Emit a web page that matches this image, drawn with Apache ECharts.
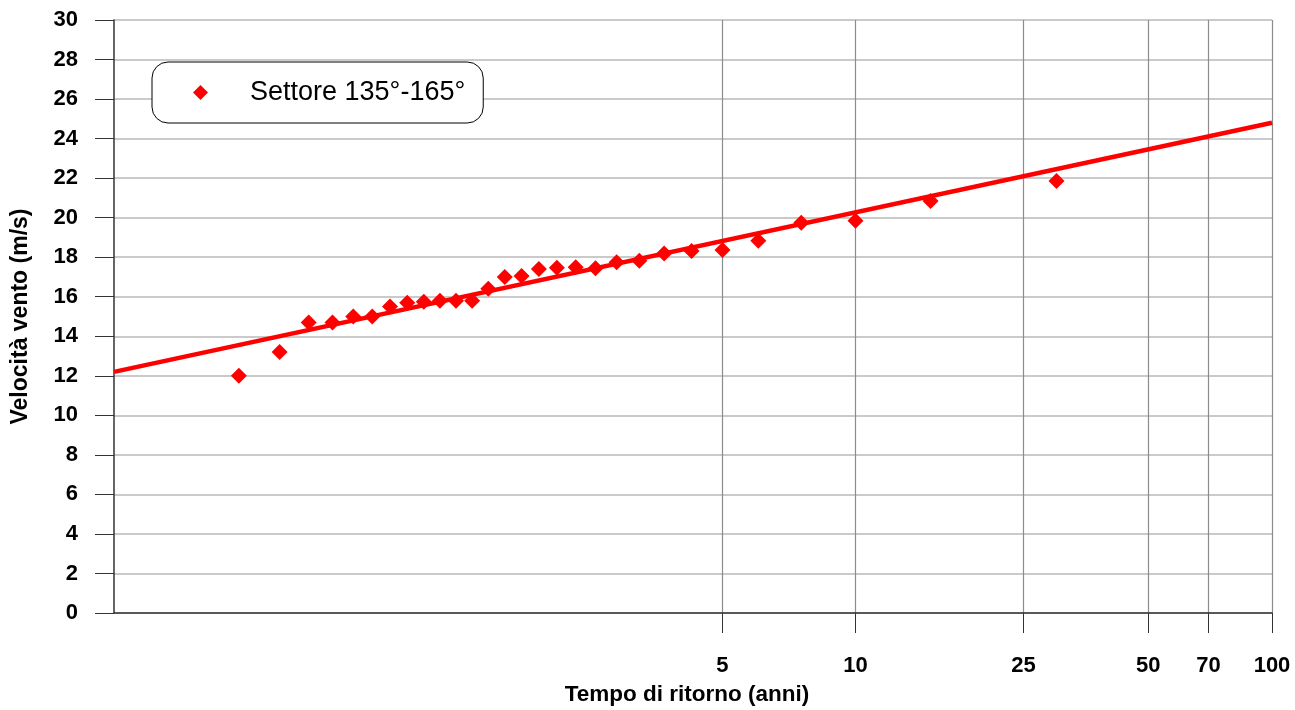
<!DOCTYPE html>
<html>
<head>
<meta charset="utf-8">
<script src="https://cdn.jsdelivr.net/npm/echarts@6/dist/echarts.min.js"></script>
<style>html,body{margin:0;padding:0;background:#fff}#c{width:1295px;height:710px}</style>
</head>
<body>
<div id="c"></div>
<script>
// Return periods (years) of the observed annual maxima (plotting positions)
const returnPeriods = [1.034, 1.071, 1.111, 1.154, 1.2, 1.25, 1.304, 1.364, 1.429, 1.5, 1.579, 1.667, 1.765, 1.875, 2, 2.143, 2.308, 2.5, 2.727, 3, 3.333, 3.75, 4.286, 5, 6, 7.5, 10, 15, 30];
// Observed wind speed (m/s)
const windSpeed = [12.0, 13.2, 14.7, 14.7, 15.0, 15.0, 15.5, 15.7, 15.75, 15.8, 15.8, 15.8, 16.4, 17.0, 17.05, 17.4, 17.47, 17.49, 17.44, 17.74, 17.82, 18.19, 18.31, 18.36, 18.83, 19.74, 19.84, 20.84, 21.85];
// Fitted Gumbel line (end points)
const fitReturnPeriods = [1.001, 100];
const fitSpeed = [12.2, 24.8];
// Axis tick labels
const xTickLabels = [5, 10, 25, 50, 70, 100];
const seriesName = 'Settore 135°-165°';

const gumbel = T => -Math.log(-Math.log(1 - 1 / T));
const invGumbel = u => 1 / (1 - Math.exp(-Math.exp(-u)));

const FONT = "'Liberation Sans', Arial, sans-serif";

const chart = echarts.init(document.getElementById('c'), null, {renderer: 'canvas'});
chart.setOption({
  animation: false,
  backgroundColor: '#fff',
  grid: {left: 114, right: 23, top: 20, bottom: 97, containLabel: false, outerBoundsMode: 'none'},
  legend: {
    left: 152, top: 62,
    orient: 'horizontal',
    data: [{name: seriesName, icon: 'diamond'}],
    itemWidth: 15, itemHeight: 15,
    backgroundColor: '#fff',
    borderColor: '#000', borderWidth: 1, borderRadius: 16,
    padding: [17, 18, 17, 41],
    textStyle: {fontFamily: FONT, fontSize: 27, color: '#000', padding: [0, 0, 0, 37]}
  },
  xAxis: {
    type: 'value',
    min: gumbel(fitReturnPeriods[0]),
    max: gumbel(100),
    name: 'Tempo di ritorno (anni)',
    nameLocation: 'middle',
    nameGap: 70,
    nameTextStyle: {fontFamily: FONT, fontSize: 22.5, fontWeight: 'bold', color: '#000', padding: [0, 12, 0, 0]},
    axisLine: {onZero: false, lineStyle: {color: '#333', width: 1.5}},
    axisTick: {show: true, length: 20, lineStyle: {color: '#333'}, customValues: xTickLabels.map(gumbel)},
    axisLabel: {
      customValues: xTickLabels.map(gumbel),
      margin: 42,
      fontFamily: FONT, fontSize: 22, fontWeight: 'bold', color: '#000',
      formatter: v => String(Math.round(invGumbel(v)))
    },
    splitLine: {show: true, lineStyle: {color: '#8c8c8c', width: 1.2}}
  },
  yAxis: {
    type: 'value',
    min: 0, max: 30, interval: 2,
    name: 'Velocità vento (m/s)',
    nameLocation: 'middle',
    nameGap: 82,
    nameTextStyle: {fontFamily: FONT, fontSize: 23, fontWeight: 'bold', color: '#000'},
    axisLine: {show: true, onZero: false, lineStyle: {color: '#333', width: 1.5}},
    axisTick: {show: true, length: 19, lineStyle: {color: '#333'}},
    axisLabel: {margin: 36, fontFamily: FONT, fontSize: 22, fontWeight: 'bold', color: '#000'},
    splitLine: {show: true, lineStyle: {color: '#b8b8b8', width: 1.5}}
  },
  series: [
    {
      name: 'fit',
      type: 'line',
      data: fitReturnPeriods.map((T, i) => [gumbel(T), fitSpeed[i]]),
      showSymbol: false,
      lineStyle: {color: '#ff0000', width: 4.5},
      z: 2
    },
    {
      name: seriesName,
      type: 'scatter',
      data: returnPeriods.map((T, i) => [gumbel(T), windSpeed[i]]),
      symbol: 'diamond',
      symbolSize: 16,
      itemStyle: {color: '#ff0000', opacity: 1},
      z: 3
    }
  ]
});
</script>
</body>
</html>
